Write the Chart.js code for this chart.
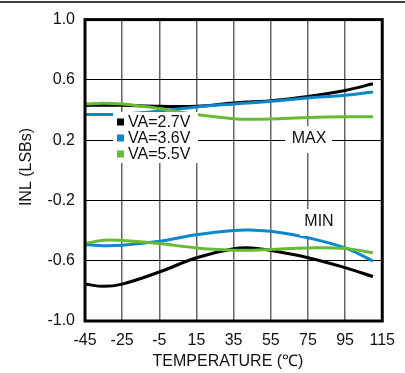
<!DOCTYPE html>
<html>
<head>
<meta charset="utf-8">
<style>
  html, body { margin: 0; padding: 0; background: #fff; }
  #wrap { width: 405px; height: 373px; }
</style>
<script src="https://cdn.jsdelivr.net/npm/chart.js@4.4.1/dist/chart.umd.min.js"></script>
</head>
<body>
<div id="wrap"><canvas id="c" width="405" height="373"></canvas></div>
<script>
// Temperature sweep (°C)
const temps = [-45, -35, -25, -5, 15, 35, 45, 55, 75, 95, 110];

// INL maximum (LSBs)
const max27 = [0.430, 0.432, 0.432, 0.425, 0.425, 0.447, 0.455, 0.462, 0.490, 0.530, 0.574];
const max36 = [0.370, 0.370, 0.372, 0.393, 0.420, 0.440, 0.449, 0.458, 0.480, 0.498, 0.520];
const max55 = [0.440, 0.445, 0.440, 0.410, 0.370, 0.342, 0.338, 0.340, 0.350, 0.355, 0.355];

// INL minimum (LSBs)
const min27 = [-0.755, -0.770, -0.755, -0.675, -0.580, -0.520, -0.515, -0.532, -0.580, -0.646, -0.705];
const min36 = [-0.493, -0.500, -0.497, -0.471, -0.427, -0.399, -0.397, -0.405, -0.448, -0.515, -0.602];
const min55 = [-0.486, -0.464, -0.466, -0.486, -0.515, -0.530, -0.530, -0.525, -0.515, -0.519, -0.548];

const seriesLabels = ['VA=2.7V', 'VA=3.6V', 'VA=5.5V'];
const seriesColors = ['#000000', '#0b88c9', '#66bb33'];

const xTicks = [-45, -25, -5, 15, 35, 55, 75, 95, 115];
const yTicks = [-1.0, -0.6, -0.2, 0.2, 0.6, 1.0];

const FONT = '"Liberation Sans", Arial, sans-serif';

const pts = arr => arr.map((v, i) => ({ x: temps[i], y: v }));

function lineSet(label, data, color, order) {
  return {
    label, data: pts(data), borderColor: color, backgroundColor: color,
    borderWidth: 3, pointRadius: 0, tension: 0.4, fill: false, order
  };
}

const datasets = [
  lineSet(seriesLabels[0], max27, seriesColors[0], 2),
  lineSet(seriesLabels[1], max36, seriesColors[1], 1),
  lineSet(seriesLabels[2], max55, seriesColors[2], 0),
  lineSet(seriesLabels[0] + ' min', min27, seriesColors[0], 2),
  lineSet(seriesLabels[1] + ' min', min36, seriesColors[1], 1),
  lineSet(seriesLabels[2] + ' min', min55, seriesColors[2], 0)
];

// Frame, in-plot legend, MAX/MIN callouts and axis titles
const overlay = {
  id: 'overlay',
  afterDatasetsDraw(chart) {
    const ctx = chart.ctx;
    const a = chart.chartArea;
    ctx.save();

    // heavy plot frame
    ctx.strokeStyle = '#000';
    ctx.lineWidth = 3;
    ctx.strokeRect(a.left, a.top, a.right - a.left, a.bottom - a.top);

    // white knock-out panels
    ctx.fillStyle = '#fff';
    ctx.fillRect(113, 112, 85, 51);     // legend
    ctx.fillRect(285, 126, 47, 27);     // MAX
    ctx.fillRect(300, 209, 38, 27);     // MIN

    ctx.font = '16px ' + FONT;
    ctx.textBaseline = 'middle';
    ctx.fillStyle = '#111';

    // legend rows
    const rowY = [122, 138, 154];
    seriesLabels.forEach((lab, i) => {
      ctx.fillStyle = seriesColors[i];
      ctx.fillRect(117, rowY[i] - 3.5, 7, 7);
      ctx.fillStyle = '#111';
      ctx.textAlign = 'left';
      ctx.fillText(lab, 128, rowY[i] + 0.5);
    });

    ctx.textAlign = 'center';
    ctx.fillText('MAX', 309, 139);
    ctx.fillText('MIN', 319, 222);

    // axis titles
    ctx.fillText('TEMPERATURE (\u2103)', 228, 362);
    ctx.save();
    ctx.translate(27, 167);
    ctx.rotate(-Math.PI / 2);
    ctx.fillText('INL (LSBs)', 0, 0);
    ctx.restore();

    // rule across the top of the figure
    ctx.strokeStyle = '#000';
    ctx.lineWidth = 1.5;
    ctx.beginPath();
    ctx.moveTo(0, 2);
    ctx.lineTo(405, 2);
    ctx.stroke();

    ctx.restore();
  }
};

new Chart(document.getElementById('c'), {
  type: 'line',
  data: { datasets },
  options: {
    responsive: false,
    animation: false,
    devicePixelRatio: 1,
    layout: { padding: { top: 16, right: 20, left: 0, bottom: 0 } },
    plugins: { legend: { display: false }, tooltip: { enabled: false } },
    scales: {
      x: {
        type: 'linear', min: -45, max: 115,
        afterFit: s => { s.height = 52; },
        afterBuildTicks: s => { s.ticks = xTicks.map(v => ({ value: v })); },
        ticks: { font: { family: FONT, size: 16 }, color: '#111', padding: 10, maxRotation: 0, autoSkip: false,
                 callback: v => String(v) },
        grid: { color: '#666', lineWidth: 1.5, drawTicks: false },
        border: { display: false }
      },
      y: {
        type: 'linear', min: -1, max: 1,
        afterFit: s => { s.width = 85; },
        afterBuildTicks: s => { s.ticks = yTicks.map(v => ({ value: v })); },
        ticks: { font: { family: FONT, size: 16 }, color: '#111', padding: 10, autoSkip: false,
                 callback: v => Number(v).toFixed(1) },
        grid: { color: '#000', lineWidth: 1, drawTicks: false },
        border: { display: false }
      }
    }
  },
  plugins: [overlay]
});
</script>
</body>
</html>
